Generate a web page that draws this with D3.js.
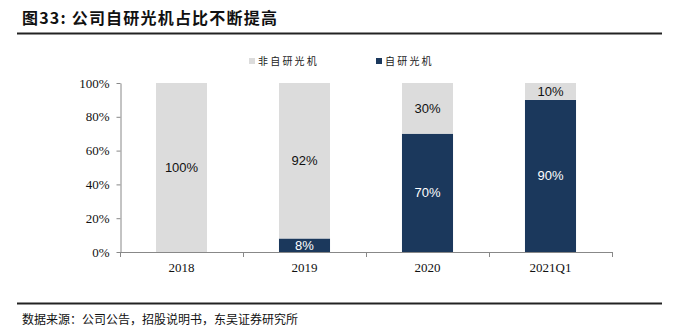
<!DOCTYPE html>
<html><head><meta charset="utf-8">
<script src="https://cdn.jsdelivr.net/npm/d3@7"></script>
<style>body{margin:0;background:#fff}</style>
</head><body>
<svg id="c" width="691" height="331"></svg>
<script>
const categories = ["2018","2019","2020","2021Q1"];
const ownValues = [0, 8, 70, 90];
const otherValues = [100, 92, 30, 10];
const seriesNames = ["非自研光机","自研光机"];
const yTicks = [0,20,40,60,80,100];
const colors = {other:"#dcdcdc", own:"#1b385c"};

const svg = d3.select("#c");
const cjk = "'Noto Sans CJK SC', sans-serif";
const serif = "'Liberation Serif','Times New Roman',serif";
const sans = "'Liberation Sans',Arial,sans-serif";

svg.append("text").attr("x",22).attr("y",24).attr("font-family",cjk).attr("font-weight","bold")
  .attr("font-size",16).attr("letter-spacing",1.2).attr("fill","#111").text("图33:  公司自研光机占比不断提高");
svg.append("line").attr("x1",17).attr("x2",662).attr("y1",33.5).attr("y2",33.5).attr("stroke","#222").attr("stroke-width",2);
svg.append("line").attr("x1",17).attr("x2",662).attr("y1",303.5).attr("y2",303.5).attr("stroke","#222").attr("stroke-width",2);
svg.append("text").attr("x",22).attr("y",324).attr("font-family",cjk).attr("font-size",12).attr("letter-spacing",0).attr("fill","#111")
  .text("数据来源：公司公告，招股说明书，东吴证券研究所");

const x = d3.scaleBand().domain(categories).range([120,612]).paddingInner(0.585).paddingOuter(0.2925);
const y = d3.scaleLinear().domain([0,100]).range([252,83]);

// legend
const leg = [{name:seriesNames[0],c:colors.other,x:249},{name:seriesNames[1],c:colors.own,x:376}];
leg.forEach(l=>{
  svg.append("rect").attr("x",l.x).attr("y",58).attr("width",6).attr("height",6).attr("fill",l.c);
  svg.append("text").attr("x",l.x+9).attr("y",65).attr("font-family",cjk).attr("font-size",10).attr("letter-spacing",2.2).attr("fill","#222").text(l.name);
});

const data = categories.map((c,i)=>({c, own:ownValues[i], other:otherValues[i]}));
const g = svg.append("g");
g.selectAll(".own").data(data).join("rect").attr("x",d=>x(d.c)).attr("width",x.bandwidth())
  .attr("y",d=>y(d.own)).attr("height",d=>y(0)-y(d.own)).attr("fill",colors.own);
g.selectAll(".oth").data(data).join("rect").attr("x",d=>x(d.c)).attr("width",x.bandwidth())
  .attr("y",d=>y(d.own+d.other)).attr("height",d=>y(d.own)-y(d.own+d.other)).attr("fill",colors.other);

// labels
data.forEach(d=>{
  const cx = x(d.c)+x.bandwidth()/2;
  if(d.own>0) svg.append("text").attr("x",cx).attr("y",(y(0)+y(d.own))/2+4.5).attr("text-anchor","middle")
    .attr("font-family",sans).attr("font-size",13).attr("fill","#fff").text(d.own+"%");
  if(d.other>0) svg.append("text").attr("x",cx).attr("y",(y(d.own)+y(d.own+d.other))/2+4.5).attr("text-anchor","middle")
    .attr("font-family",sans).attr("font-size",13).attr("fill","#111").text(d.other+"%");
});

// y axis
const ya = svg.append("g").attr("transform","translate(120.5,0)")
  .call(d3.axisLeft(y).tickValues(yTicks).tickFormat(d=>d+"%").tickSize(4).tickSizeOuter(0));
ya.select(".domain").attr("stroke","#888");
ya.selectAll(".tick line").attr("stroke","#888");
ya.selectAll("text").attr("font-family",serif).attr("font-size",13).attr("fill","#111").attr("dx","-4");
// x axis
svg.append("line").attr("x1",120).attr("x2",612).attr("y1",252.5).attr("y2",252.5).attr("stroke","#888");
const bounds = [120,243,366,489,612];
bounds.forEach(b=>svg.append("line").attr("x1",b+0.5).attr("x2",b+0.5).attr("y1",252).attr("y2",257).attr("stroke","#888"));
categories.forEach(c=>svg.append("text").attr("x",x(c)+x.bandwidth()/2).attr("y",272).attr("text-anchor","middle")
  .attr("font-family",serif).attr("font-size",13).attr("fill","#111").text(c));
</script>
</body></html>
